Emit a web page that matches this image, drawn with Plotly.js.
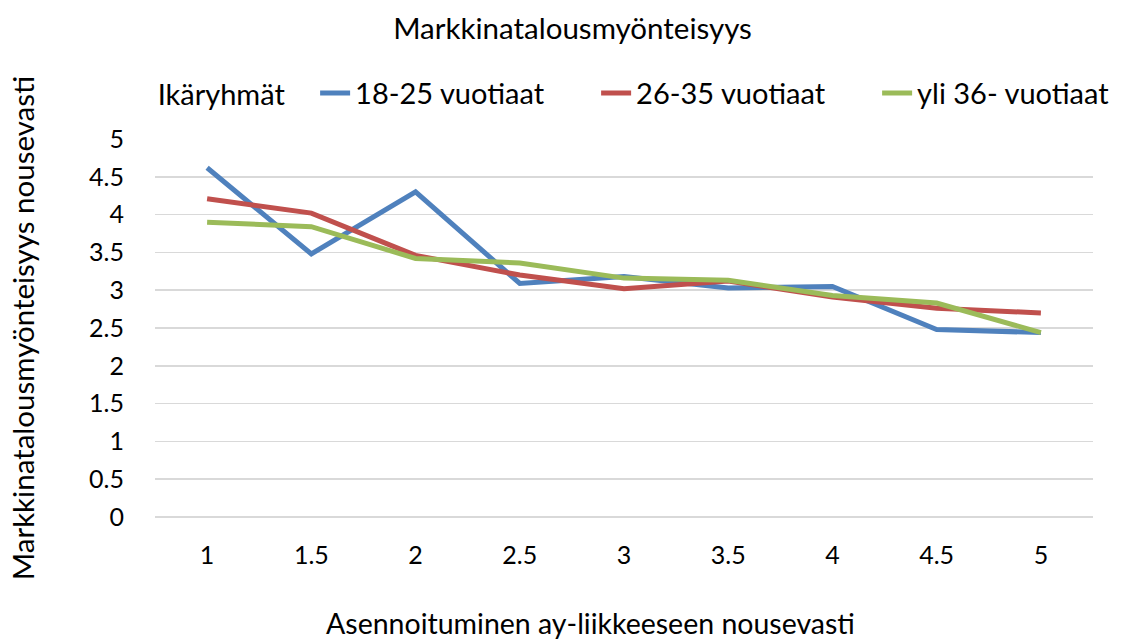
<!DOCTYPE html>
<html>
<head>
<meta charset="utf-8">
<script src="https://cdn.plot.ly/plotly-3.0.1.min.js"></script>
<style>html,body{margin:0;padding:0;background:#fff;}#chart{width:1136px;height:643px;}</style>
</head>
<body>
<div id="chart"></div>
<script>
const categories = ["1", "1.5", "2", "2.5", "3", "3.5", "4", "4.5", "5"];
const seriesNames = ["18-25 vuotiaat", "26-35 vuotiaat", "yli 36- vuotiaat"];
const young = [4.62, 3.48, 4.30, 3.09, 3.18, 3.03, 3.05, 2.48, 2.44];
const middle = [4.21, 4.02, 3.46, 3.20, 3.02, 3.12, 2.91, 2.76, 2.70];
const older = [3.90, 3.84, 3.42, 3.36, 3.16, 3.13, 2.93, 2.83, 2.44];
const yTicks = [0, 0.5, 1, 1.5, 2, 2.5, 3, 3.5, 4, 4.5, 5];
const colors = ["#4F81BD", "#C0504D", "#9BBB59"];
const xTitle = "Asennoituminen ay-liikkeeseen nousevasti";
const yTitle = "Markkinatalousmyönteisyys nousevasti";

const FONT = "Lato, 'Open Sans', sans-serif";
const data = [young, middle, older].map((vals, i) => ({
  type: "scatter",
  mode: "lines",
  x: categories,
  y: vals,
  name: seriesNames[i],
  line: {color: colors[i], width: 5}
}));

const layout = {
  width: 1136, height: 643,
  paper_bgcolor: "#fff", plot_bgcolor: "#fff",
  margin: {l: 155, r: 43, t: 139, b: 126},
  font: {family: FONT, size: 26, color: "#000"},
  title: {text: "Markkinatalousmyönteisyys", xref: "container", yref: "container", x: 0.504, xanchor: "center", y: 0.956, yanchor: "middle", font: {family: FONT, size: 29.5, color: "#000"}},
  showlegend: true,
  legend: {
    orientation: "h", xref: "container", yref: "container",
    x: 0.137, xanchor: "left", y: 0.855, yanchor: "middle",
    title: {text: "Ikäryhmät\u00a0\u00a0\u00a0", font: {family: FONT, size: 29}},
    font: {family: FONT, size: 29},
    traceorder: "normal",
    entrywidth: 236, entrywidthmode: "pixels"
  },
  annotations: [{
    text: xTitle, xref: "paper", yref: "paper",
    x: (590 - 155) / 938, xanchor: "center",
    y: (517 - 623) / 378, yanchor: "middle",
    showarrow: false, font: {family: FONT, size: 28.5, color: "#000"}
  }],
  xaxis: {
    type: "category",
    categoryorder: "array", categoryarray: categories,
    range: [-0.5, 8.5],
    showgrid: false, zeroline: false, showline: false,
    ticks: "", ticklen: 0, ticklabelstandoff: 21,
    tickfont: {family: FONT, size: 25}
  },
  yaxis: {
    range: [0, 5],
    tickvals: yTicks,
    ticktext: yTicks.map(String),
    showgrid: true, gridcolor: "#D9D9D9", gridwidth: 1.5,
    zeroline: true, zerolinecolor: "#D9D9D9", zerolinewidth: 1.5,
    showline: false, ticks: "", ticklabelstandoff: 30,
    tickfont: {family: FONT, size: 25},
    title: {text: yTitle, font: {family: FONT, size: 29.5}, standoff: 45}
  }
};

Plotly.newPlot("chart", data, layout, {displayModeBar: false, staticPlot: true});
</script>
</body>
</html>
